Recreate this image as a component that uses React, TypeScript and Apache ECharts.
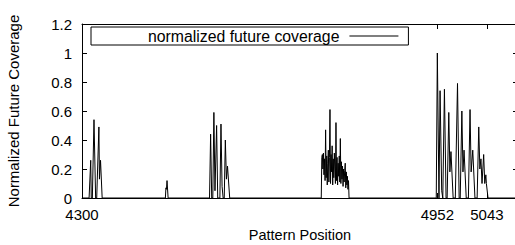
import React, { useEffect, useRef } from "react";
import * as echarts from "echarts";

const FONT = "'Liberation Sans', Arial, Helvetica, sans-serif";

const seriesName = "normalized future coverage";
const xTicks = [4300, 4952, 5043];
const xMin = 4300;
const xMax = 5100;

const clusterAPos = [4313, 4316, 4317, 4319, 4322, 4325, 4327, 4331, 4332, 4334, 4337];
const clusterAVal = [0, 0.26, 0, 0, 0.54, 0, 0, 0.49, 0.13, 0.26, 0];

const clusterBPos = [4453, 4454, 4455, 4456, 4458];
const clusterBVal = [0, 0.07, 0.06, 0.12, 0];

const clusterCPos = [4534, 4536, 4538, 4540, 4542, 4544, 4547, 4549, 4553, 4555, 4557, 4559, 4561, 4563, 4565, 4567, 4571];
const clusterCVal = [0, 0.44, 0, 0, 0.59, 0.05, 0.5, 0, 0, 0.51, 0.08, 0, 0, 0.4, 0.13, 0.22, 0];

const clusterDPos = [
  4739, 4740, 4741, 4742, 4743, 4744, 4745, 4746, 4747, 4748, 4749, 4750, 4751,
  4752, 4753, 4754, 4755, 4756, 4757, 4758, 4759, 4760, 4761, 4762, 4763, 4764,
  4765, 4766, 4767, 4768, 4769, 4770, 4771, 4772, 4773, 4774, 4775, 4776, 4777,
  4778, 4779, 4780, 4781, 4782, 4783, 4784, 4785, 4786, 4787, 4788, 4789, 4790,
];
const clusterDVal = [
  0, 0.28, 0.3, 0.2, 0.31, 0.16, 0.27, 0.12, 0.47, 0.14, 0.29, 0.09, 0.24,
  0.33, 0.11, 0.28, 0.61, 0.1, 0.3, 0.18, 0.36, 0.09, 0.27, 0.14, 0.31, 0.2,
  0.1, 0.52, 0.12, 0.28, 0.09, 0.24, 0.15, 0.29, 0.11, 0.41, 0.1, 0.25, 0.13,
  0.22, 0.08, 0.2, 0.11, 0.19, 0.24, 0.07, 0.18, 0.09, 0.15, 0.06, 0.12, 0,
];

const clusterEPos = [
  4950, 4952, 4955, 4957, 4960, 4962, 4965, 4968, 4970, 4973, 4975, 4977, 4981,
  4985, 4989, 4992, 4994, 4997, 4999, 5001, 5005, 5009, 5012, 5014, 5017, 5021,
  5025, 5028, 5030, 5032, 5034, 5037, 5039, 5041, 5042, 5045,
];
const clusterEVal = [
  0, 1.0, 0, 0.74, 0.05, 0, 0.75, 0, 0, 0.59, 0.18, 0.32, 0,
  0, 0.79, 0, 0, 0.6, 0.18, 0.33, 0, 0, 0.61, 0.18, 0.33, 0,
  0, 0.49, 0.2, 0.27, 0.1, 0.3, 0.1, 0.16, 0.1, 0,
];

function pairs(pos: number[], val: number[]): number[][] {
  return pos.map((p, i) => [p, val[i]]);
}

const seriesData: number[][] = [
  [xMin, 0],
  ...pairs(clusterAPos, clusterAVal),
  ...pairs(clusterBPos, clusterBVal),
  ...pairs(clusterCPos, clusterCVal),
  ...pairs(clusterDPos, clusterDVal),
  ...pairs(clusterEPos, clusterEVal),
  [xMax, 0],
];

const axisLine = { show: true, onZero: false, lineStyle: { color: "#000", width: 1 } };

export default function App() {
  const ref = useRef<HTMLDivElement>(null);
  useEffect(() => {
    if (!ref.current) return;
    const chart = echarts.init(ref.current, null, { renderer: "svg" });
    chart.setOption({
      animation: false,
      backgroundColor: "#fff",
      textStyle: { fontFamily: FONT },
      grid: {
        left: 82,
        top: 24,
        right: -3,
        bottom: 47,
        containLabel: false,
        outerBoundsMode: "none",
      },
      legend: {
        data: [seriesName],
        left: 91,
        top: 27,
        align: "right",
        icon: "rect",
        itemWidth: 49,
        itemHeight: 1,
        selectedMode: false,
        borderColor: "#000",
        borderWidth: 1,
        borderRadius: 0,
        padding: [1, 10, 1, 57],
        textStyle: {
          fontSize: 15.8,
          fontFamily: FONT,
          color: "#000",
          lineHeight: 15,
          padding: [0, 5, 0, 0],
        },
      },
      xAxis: [
        {
          type: "value",
          position: "bottom",
          min: xMin,
          max: xMax,
          axisLine,
          axisTick: {
            show: true,
            inside: true,
            length: 5,
            customValues: xTicks,
            lineStyle: { color: "#000", width: 1 },
          },
          axisLabel: {
            customValues: xTicks,
            formatter: (v: number) => String(v),
            margin: 9,
            color: "#000",
            fontSize: 15,
            fontFamily: FONT,
          },
          splitLine: { show: false },
          name: "Pattern Position",
          nameLocation: "middle",
          nameGap: 29,
          nameTextStyle: { fontSize: 14.5, fontFamily: FONT, color: "#000" },
        },
        {
          type: "value",
          position: "top",
          min: xMin,
          max: xMax,
          axisLine,
          axisTick: {
            show: true,
            inside: true,
            length: 5,
            customValues: xTicks,
            lineStyle: { color: "#000", width: 1 },
          },
          axisLabel: { show: false },
          splitLine: { show: false },
        },
      ],
      yAxis: [
        {
          type: "value",
          position: "left",
          min: 0,
          max: 1.2,
          interval: 0.2,
          axisLine,
          axisTick: { show: true, inside: true, length: 5, lineStyle: { color: "#000", width: 1 } },
          axisLabel: { margin: 10, color: "#000", fontSize: 15, fontFamily: FONT },
          splitLine: { show: false },
          name: "Normalized Future Coverage",
          nameLocation: "middle",
          nameRotate: 90,
          nameGap: 61,
          nameTextStyle: { fontSize: 15, fontFamily: FONT, color: "#000" },
        },
        {
          type: "value",
          position: "right",
          min: 0,
          max: 1.2,
          interval: 0.2,
          axisLine,
          axisTick: { show: true, inside: true, length: 5, lineStyle: { color: "#000", width: 1 } },
          axisLabel: { show: false },
          splitLine: { show: false },
        },
      ],
      series: [
        {
          type: "line",
          name: seriesName,
          data: seriesData,
          xAxisIndex: 0,
          yAxisIndex: 0,
          symbol: "none",
          color: "#000",
          lineStyle: { color: "#000", width: 1 },
        },
      ],
    });
    return () => chart.dispose();
  }, []);
  return (
    <div
      ref={ref}
      style={{ position: "fixed", left: 0, top: 0, width: 515, height: 245 }}
    />
  );
}
